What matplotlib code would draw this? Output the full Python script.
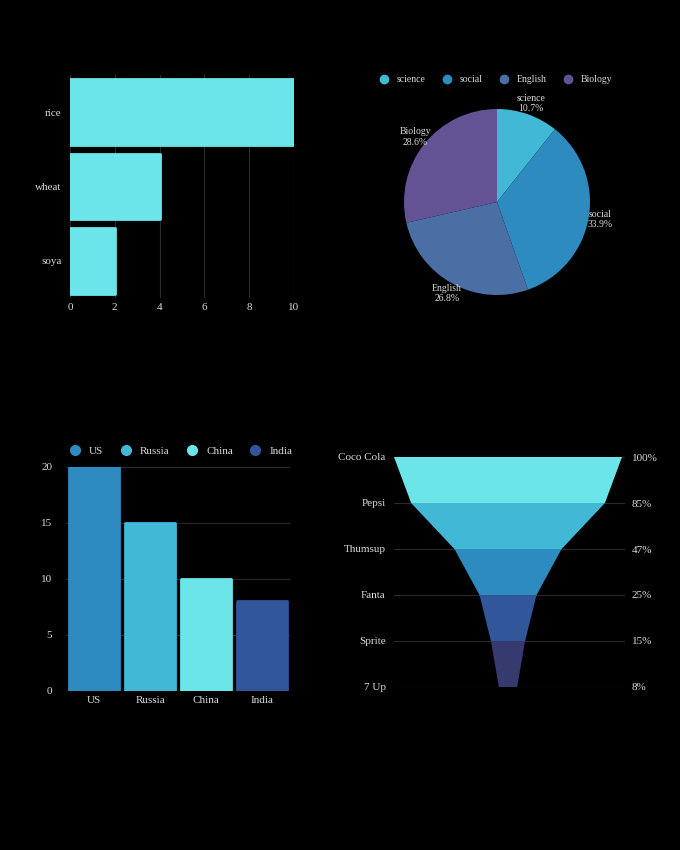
import matplotlib
matplotlib.use("Agg")
import matplotlib.pyplot as plt
from matplotlib.patches import Polygon
from matplotlib.lines import Line2D

plt.rcParams['font.family'] = ['Liberation Serif', 'DejaVu Serif']

crops = ['rice', 'wheat', 'soya']
crop_vals = [10, 4, 2]
subjects = ['science', 'social', 'English', 'Biology']
subject_vals = [10.7, 33.9, 26.8, 28.6]
countries = ['US', 'Russia', 'China', 'India']
country_vals = [20, 15, 10, 8]
brands = ['Coco Cola', 'Pepsi', 'Thumsup', 'Fanta', 'Sprite', '7 Up']
brand_vals = [100, 85, 47, 25, 15, 8]

TXT = '#d9d9d9'
GRID = '#2a2a2a'
C_CYAN = '#6ce5e8'
C_LBLUE = '#41b8d5'
C_BLUE = '#2e8bc0'
C_SLATE = '#4a6fa5'
C_PURP = '#645394'
C_NAVY = '#31569a'
C_DARK = '#363a6e'

fig = plt.figure(figsize=(6.8, 8.5), dpi=100, facecolor='black')

def style(ax):
    ax.set_facecolor('black')
    for s in ax.spines.values():
        s.set_visible(False)
    ax.tick_params(colors=TXT, labelsize=8, length=0)

# top-left horizontal bars
ax1 = fig.add_axes([70/680, (850-298)/850, 224/680, 223/850])
style(ax1)
ax1.barh(crops, crop_vals, height=0.88, color=C_CYAN, edgecolor=C_CYAN,
         linewidth=2, joinstyle='round', zorder=3)
ax1.set_xlim(0, 10)
ax1.set_xticks([0, 2, 4, 6, 8, 10])
ax1.set_ylim(2.5, -0.5)
ax1.grid(axis='x', color=GRID, linewidth=0.8, zorder=0)
ax1.tick_params(axis='y', pad=6)

# top-right pie
ax2 = fig.add_axes([(497-93)/680, (850-295)/850, 186/680, 186/850])
style(ax2)
pie_cols = [C_LBLUE, C_BLUE, C_SLATE, C_PURP]
total = sum(subject_vals)
ax2.pie(subject_vals, colors=pie_cols, startangle=90, counterclock=False,
        labels=[f'{s}\n{v/total*100:.1f}%' for s, v in zip(subjects, subject_vals)],
        labeldistance=1.12, textprops=dict(color=TXT, fontsize=7, ha='center'))
ax2.set_aspect('equal')
ax2.set_xlim(-1, 1)
ax2.set_ylim(-1, 1)
fig.legend(handles=[Line2D([], [], marker='o', ls='', color=c, markersize=6) for c in pie_cols],
           labels=subjects, loc='center', bbox_to_anchor=(493/680, 1-80/850), ncol=4,
           frameon=False, labelcolor=TXT, fontsize=7, handletextpad=0.3, columnspacing=1.2)

# bottom-left vertical bars
ax3 = fig.add_axes([66/680, (850-691)/850, 224/680, 224/850])
style(ax3)
bar_cols = [C_BLUE, C_LBLUE, C_CYAN, C_NAVY]
ax3.bar(countries, country_vals, width=0.9, color=bar_cols, edgecolor=bar_cols,
        linewidth=2, joinstyle='round', zorder=3)
ax3.set_ylim(0, 20)
ax3.set_xlim(-0.5, 3.5)
ax3.set_yticks([0, 5, 10, 15, 20])
ax3.grid(axis='y', color=GRID, linewidth=0.8, zorder=0)
ax3.tick_params(axis='y', pad=10)
fig.legend(handles=[Line2D([], [], marker='o', ls='', color=c, markersize=7) for c in bar_cols],
           labels=countries, loc='center', bbox_to_anchor=(178/680, 1-451/850), ncol=4,
           frameon=False, labelcolor=TXT, fontsize=8, handletextpad=0.3, columnspacing=1.0)

# bottom-right funnel
ax4 = fig.add_axes([394/680, (850-687)/850, 231/680, 230/850])
style(ax4)
ax4.set_xlim(-50, 51.3)
ax4.set_ylim(len(brands) - 1, 0)
fun_cols = [C_CYAN, C_LBLUE, C_BLUE, C_NAVY, C_DARK]
for i in range(len(brands)):
    ax4.axhline(i, color=GRID, linewidth=0.8, zorder=0)
for i in range(len(brands) - 1):
    w0, w1 = brand_vals[i] / 2, brand_vals[i + 1] / 2
    ax4.add_patch(Polygon([(-w0, i), (w0, i), (w1, i + 1), (-w1, i + 1)],
                          closed=True, color=fun_cols[i], zorder=2, lw=0))
ax4.set_yticks(range(len(brands)))
ax4.set_yticklabels(brands)
ax4.tick_params(axis='y', pad=6)
ax4.set_xticks([])
axr = ax4.twinx()
style(axr)
axr.set_ylim(ax4.get_ylim())
axr.set_yticks(range(len(brands)))
axr.set_yticklabels([f'{v}%' for v in brand_vals])
axr.tick_params(axis='y', pad=5)

fig.savefig('out.png', dpi=100, facecolor='black')
